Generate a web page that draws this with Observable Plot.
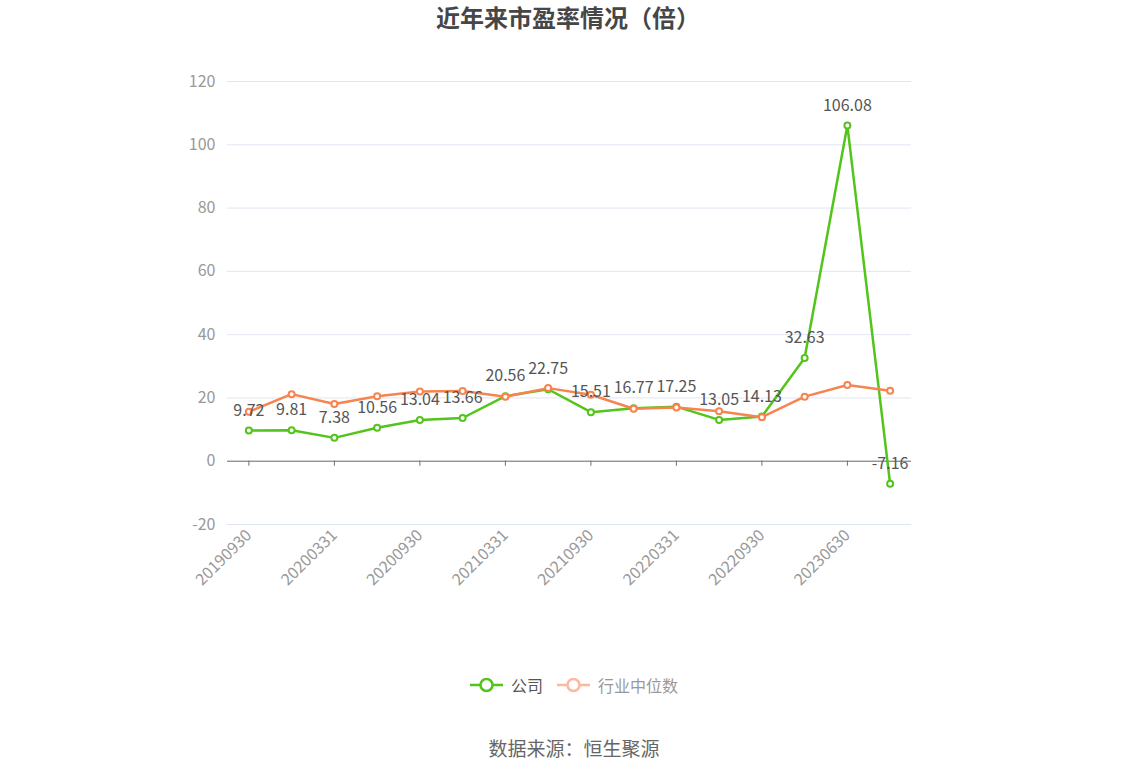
<!DOCTYPE html>
<html>
<head>
<meta charset="utf-8">
<script src="https://cdn.jsdelivr.net/npm/d3@7"></script>
<script src="https://cdn.jsdelivr.net/npm/@observablehq/plot@0.6"></script>
<style>
  html, body { margin: 0; padding: 0; background: #fff; }
  body { width: 1148px; height: 776px; overflow: hidden; font-family: "Noto Sans CJK SC", "Noto Sans", sans-serif; }
  #title { height: 50px; line-height: 33px; text-align: center; font-size: 24px; font-weight: bold; color: #464646; box-sizing: border-box; }
  #title span { position: relative; left: -6px; }
  #chart { height: 600px; }
  #legend { height: 70px; display: flex; justify-content: center; align-items: center; gap: 14px; font-size: 16px; box-sizing: border-box; }
  #legend .item { display: flex; align-items: center; gap: 8px; }
  #caption { height: 56px; text-align: center; font-size: 19px; color: #666; line-height: 56px; }
</style>
</head>
<body>
<div id="title"><span>近年来市盈率情况（倍）</span></div>
<div id="chart"></div>
<div id="legend"></div>
<div id="caption">数据来源：恒生聚源</div>
<script>
const periods = ["20190930","20191231","20200331","20200630","20200930","20201231","20210331","20210630","20210930","20211231","20220331","20220630","20220930","20221231","20230630","20230930"];
const companyPE = [9.72, 9.81, 7.38, 10.56, 13.04, 13.66, 20.56, 22.75, 15.51, 16.77, 17.25, 13.05, 14.13, 32.63, 106.08, -7.16];
const industryPE = [15.6, 21.2, 18.1, 20.5, 22.0, 22.2, 20.4, 23.1, 21.0, 16.6, 17.0, 15.8, 13.9, 20.4, 24.1, 22.3];
const yTicks = [-20, 0, 20, 40, 60, 80, 100, 120];
const xTickLabels = periods.filter((d, i) => i % 2 === 0);
const seriesNames = ["公司", "行业中位数"];
const colors = { company: "#52c41a", industry: "#f7844e" };

const companyData = periods.map((p, i) => ({ period: p, value: companyPE[i] }));
const industryData = periods.map((p, i) => ({ period: p, value: industryPE[i] }));

const chart = Plot.plot({
  width: 1148,
  height: 600,
  marginLeft: 227,
  marginRight: 237,
  marginTop: 31,
  marginBottom: 126,
  style: { fontFamily: "'Noto Sans CJK SC', 'Noto Sans', sans-serif", background: "#fff", fontSize: "16px" },
  x: { type: "point", domain: periods, padding: 0.5, round: false },
  y: { domain: [-20, 120] },
  marks: [
    Plot.gridY(yTicks, { stroke: "#e0e6f1", strokeOpacity: 1, strokeWidth: 1 }),
    Plot.axisY(yTicks, { tickSize: 0, tickPadding: 12, fill: "#999", fontSize: 16, label: null, tickFormat: d => String(d) }),
    Plot.axisX(xTickLabels, { anchor: "bottom", tickSize: 0, tickPadding: 8, tickRotate: -45, fill: "#999", fontSize: 16, label: null }),
    Plot.ruleY([0], { stroke: "#6e7079", strokeWidth: 1 }),
    Plot.ruleX(xTickLabels, { x: d => d, y1: 0, y2: -1.6, stroke: "#6e7079", strokeWidth: 1 }),
    Plot.line(companyData, { x: "period", y: "value", stroke: colors.company, strokeWidth: 2.5 }),
    Plot.dot(companyData, { x: "period", y: "value", r: 3, fill: "#fff", stroke: colors.company, strokeWidth: 2 }),
    Plot.line(industryData, { x: "period", y: "value", stroke: colors.industry, strokeWidth: 2.5 }),
    Plot.dot(industryData, { x: "period", y: "value", r: 3, fill: "#fff", stroke: colors.industry, strokeWidth: 2 }),
    Plot.text(companyData, { x: "period", y: "value", text: d => d.value.toFixed(2), dy: -20, fill: "#555", fontSize: 16 })
  ]
});
document.getElementById("chart").appendChild(chart);

// legend
const legend = document.getElementById("legend");
const legendItems = [
  { name: seriesNames[0], color: colors.company, text: "#555" },
  { name: seriesNames[1], color: "#fcb9a0", text: "#999" }
];
for (const it of legendItems) {
  const div = document.createElement("div");
  div.className = "item";
  div.innerHTML = `<svg width="33" height="16"><line x1="0" y1="8" x2="33" y2="8" stroke="${it.color}" stroke-width="2.5"/><circle cx="16.5" cy="8" r="6" fill="#fff" stroke="${it.color}" stroke-width="2.5"/></svg><span style="color:${it.text}">${it.name}</span>`;
  legend.appendChild(div);
}
</script>
</body>
</html>
